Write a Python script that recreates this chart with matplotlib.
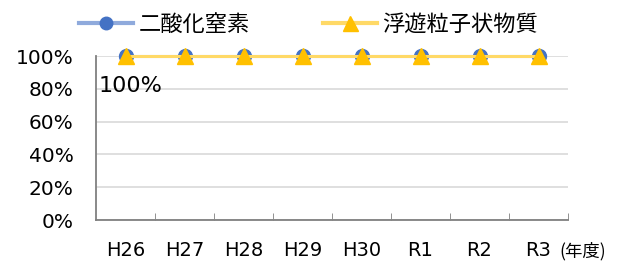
import matplotlib.pyplot as plt
from matplotlib.ticker import FuncFormatter

plt.rcParams['font.family'] = ['DejaVu Sans', 'Noto Sans CJK JP']

years = ['H26', 'H27', 'H28', 'H29', 'H30', 'R1', 'R2', 'R3']
no2 = [100, 100, 100, 100, 100, 100, 100, 100]
spm = [100, 100, 100, 100, 100, 100, 100, 100]

fig = plt.figure(figsize=(6.26, 2.62), dpi=100)
ax = fig.add_axes([96 / 626, 1 - 220 / 262, 472 / 626, 164 / 262])

x = list(range(len(years)))
ax.plot(x, no2, color='#8FAADC', linewidth=2.2, marker='o', markersize=10,
        markerfacecolor='#4472C4', markeredgecolor='#4472C4', label='二酸化窒素',
        zorder=3, clip_on=False)
ax.plot(x, spm, color='#FFD966', linewidth=2.2, marker='^', markersize=12,
        markerfacecolor='#FFC000', markeredgecolor='#FFC000', label='浮遊粒子状物質',
        zorder=4, clip_on=False)

ax.annotate(f'{no2[0]}%', xy=(x[0], no2[0]), xytext=(-19.5, -21.5), textcoords='offset points',
            fontsize=16, va='center', ha='left')

ax.set_xlim(-0.5, len(years) - 0.5)
ax.set_ylim(0, 100)
ax.set_yticks(range(0, 101, 20))
ax.yaxis.set_major_formatter(FuncFormatter(lambda v, p: f'{v:.0f}%'))
ax.set_xticks(x)
ax.set_xticklabels(years)
ax.set_xticks([i + 0.5 for i in range(len(years))], minor=True)
ax.tick_params(axis='x', which='major', length=0, pad=15, labelsize=14)
ax.tick_params(axis='x', which='minor', length=5, direction='in', color='#808080')
ax.tick_params(axis='y', length=0, pad=16, labelsize=14.5)

ax.grid(axis='y', color='#D9D9D9', linewidth=1.2)
ax.set_axisbelow(True)
for s in ['top', 'right']:
    ax.spines[s].set_visible(False)
for s in ['left', 'bottom']:
    ax.spines[s].set_color('#808080')
    ax.spines[s].set_linewidth(1.3)

fig.text(559 / 626, 1 - 251 / 262, '(年度)', fontsize=12.5, va='center', ha='left',
         family=['Noto Sans CJK JP', 'DejaVu Sans'])

leg = fig.legend(loc='center left', bbox_to_anchor=(79 / 626, 1 - 24 / 262), ncol=2, frameon=False,
                 prop={'family': ['Noto Sans CJK JP', 'DejaVu Sans'], 'size': 16},
                 handlelength=2.45, columnspacing=3.3, handletextpad=0.22, borderpad=0,
                 borderaxespad=0, markerscale=0.9)
for line in leg.get_lines():
    line.set_linewidth(3)

fig.savefig('out.png', dpi=100)
